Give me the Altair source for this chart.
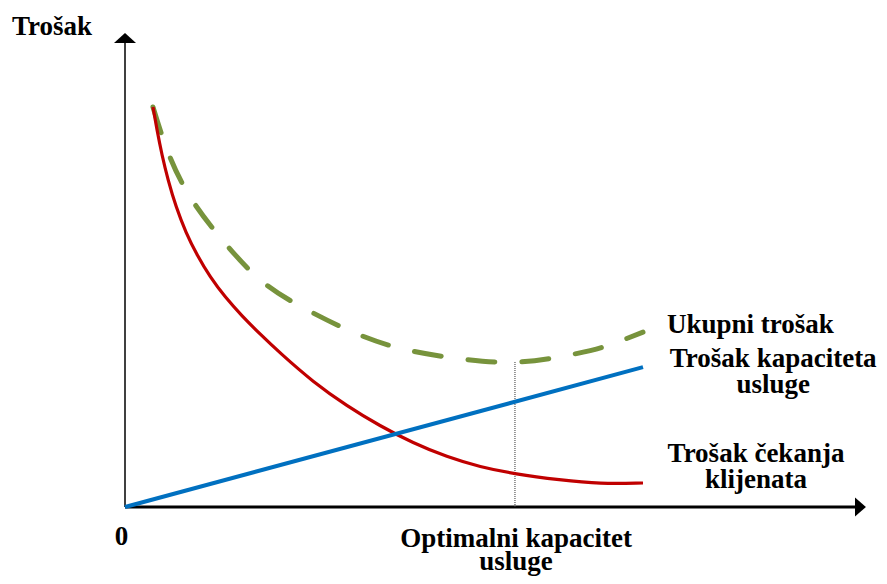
import altair as alt
import pandas as pd

# ---- data (in chart units: capacity 0..100, cost 0..100) ----
total_x = [3.78, 5.95, 9.05, 13.5, 18.6, 24.6, 31.4, 38.2, 45.7, 53.4, 60.8, 65.1, 70.0]
total_y = [84.4, 74.3, 64.8, 55.7, 47.5, 41.6, 36.5, 33.1, 31.2, 30.6, 32.3, 34.0, 36.9]

wait_x = [3.78, 4.32, 4.99, 5.81, 6.89, 8.24, 9.73, 11.49, 13.51, 15.81, 18.24, 20.95,
          25.41, 30.0, 34.46, 38.92, 43.51, 47.97, 52.70, 58.78, 64.19, 70.0]
wait_y = [84.39, 79.54, 74.26, 68.99, 63.29, 57.81, 53.16, 48.52, 44.30, 40.30, 36.50, 32.49,
          26.37, 21.31, 17.09, 13.50, 10.55, 8.44, 6.96, 5.70, 4.85, 5.06]

cap_x = [0, 70.0]
cap_y = [0, 29.5]

opt_x = 52.7
opt_y = 30.6

label_left_text = ["Trošak", "Ukupni trošak"]
label_left_x = [-15.27, 73.24]
label_left_y = [99.6, 36.7]

label_center_text = ["0", "Trošak kapaciteta\nusluge", "Trošak čekanja\nklijenata"]
label_center_x = [-0.47, 87.6, 85.27]
label_center_y = [-8.0, 29.5, 9.49]

label_bottom_text = ["Optimalni kapacitet\nusluge"]
label_bottom_x = [52.84]
label_bottom_y = [-8.44]

W, H = 871, 568
xs = alt.Scale(domain=[-117 / 7.4, (W - 117) / 7.4], nice=False, zero=False)
ys = alt.Scale(domain=[-(H - 499) / 4.74, 499 / 4.74], nice=False, zero=False)


def X(f="x"):
    return alt.X(f"{f}:Q", scale=xs, axis=None)


def Y(f="y"):
    return alt.Y(f"{f}:Q", scale=ys, axis=None)


total_df = pd.DataFrame({"x": total_x, "y": total_y})
wait_df = pd.DataFrame({"x": wait_x, "y": wait_y})
cap_df = pd.DataFrame({"x": cap_x, "y": cap_y})

total = alt.Chart(total_df).mark_line(
    color="#77933C", strokeWidth=5, strokeDash=[27, 27], strokeCap="round",
    interpolate="natural"
).encode(x=X(), y=Y())

wait = alt.Chart(wait_df).mark_line(
    color="#C00000", strokeWidth=3.2, interpolate="basis"
).encode(x=X(), y=Y())

cap = alt.Chart(cap_df).mark_line(
    color="#0070C0", strokeWidth=4
).encode(x=X(), y=Y())

opt_df = pd.DataFrame({"x": [opt_x], "y": [0.0], "y2": [opt_y]})
opt = alt.Chart(opt_df).mark_rule(
    color="#333333", strokeWidth=1, strokeDash=[1, 1]
).encode(x=X(), y=Y(), y2="y2:Q")

# axes
yaxis_df = pd.DataFrame({"x": [0.0], "y": [0.0], "y2": [97.9]})
yaxis = alt.Chart(yaxis_df).mark_rule(color="black", strokeWidth=1.5).encode(
    x=X(), y=Y(), y2="y2:Q")
xaxis_df = pd.DataFrame({"x": [0.0], "x2": [98.7], "y": [0.0]})
xaxis = alt.Chart(xaxis_df).mark_rule(color="black", strokeWidth=3).encode(
    x=X(), x2="x2:Q", y=Y())

yarrow = alt.Chart(pd.DataFrame({"x": [0.0], "y": [97.89]})).mark_point(
    shape="M -1 0 L 0 -0.9 L 1 0 Z", size=484, filled=True, color="black",
    opacity=1, strokeWidth=0
).encode(x=X(), y=Y())
xarrow = alt.Chart(pd.DataFrame({"x": [98.65], "y": [0.0]})).mark_point(
    shape="M 0 -1 L 1.15 0 L 0 1 Z", size=361, filled=True, color="black",
    opacity=1, strokeWidth=0
).encode(x=X(), y=Y())

left_df = pd.DataFrame({"x": label_left_x, "y": label_left_y, "t": label_left_text})
center_df = pd.DataFrame({"x": label_center_x, "y": label_center_y, "t": label_center_text})
bottom_df = pd.DataFrame({"x": label_bottom_x, "y": label_bottom_y, "t": label_bottom_text})

text_kw = dict(font="Liberation Serif", fontWeight="bold", fontSize=27,
               lineBreak="\n", baseline="alphabetic", color="black")
left_text = alt.Chart(left_df).mark_text(align="left", lineHeight=26, **text_kw).encode(
    x=X(), y=Y(), text="t:N")
center_text = alt.Chart(center_df).mark_text(align="center", lineHeight=26, **text_kw).encode(
    x=X(), y=Y(), text="t:N")
bottom_text = alt.Chart(bottom_df).mark_text(align="center", lineHeight=23, **text_kw).encode(
    x=X(), y=Y(), text="t:N")

chart = alt.layer(
    xaxis, yaxis, yarrow, xarrow, opt, total, wait, cap, left_text, center_text, bottom_text
).properties(
    width=W, height=H, padding=0, autosize="none", background="white"
).configure_view(stroke=None)

chart.save("out.html", embed_options={"renderer": "svg", "actions": False})
